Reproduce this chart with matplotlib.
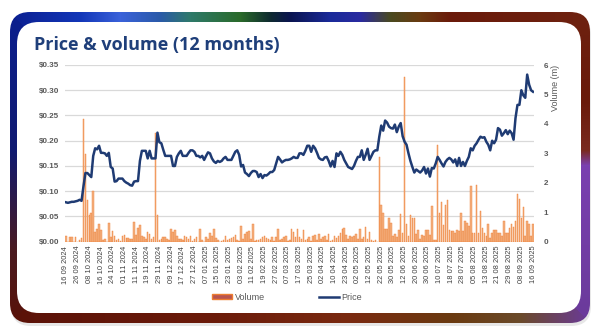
import numpy as np
import matplotlib
matplotlib.use('Agg')
import matplotlib.pyplot as plt
from matplotlib.patches import FancyBboxPatch, Patch
from matplotlib.lines import Line2D
from matplotlib.colors import to_rgb

# daily close price ($), one value per trading day, 16 09 2024 .. 16 09 2025
price = [
    0.078, 0.077, 0.078, 0.079, 0.079, 0.080, 0.081, 0.083, 0.081, 0.110,
    0.136, 0.136, 0.132, 0.128, 0.170, 0.185, 0.183, 0.190, 0.176, 0.176,
    0.175, 0.170, 0.176, 0.148, 0.145, 0.119, 0.120, 0.125, 0.125, 0.125,
    0.120, 0.117, 0.115, 0.112, 0.111, 0.119, 0.120, 0.120, 0.160, 0.180,
    0.180, 0.180, 0.165, 0.180, 0.165, 0.165, 0.165, 0.216, 0.197, 0.195,
    0.182, 0.170, 0.170, 0.170, 0.170, 0.150, 0.150, 0.168, 0.175, 0.180,
    0.170, 0.170, 0.170, 0.176, 0.181, 0.181, 0.178, 0.170, 0.170, 0.167,
    0.170, 0.162, 0.170, 0.177, 0.175, 0.165, 0.159, 0.156, 0.160, 0.158,
    0.160, 0.165, 0.168, 0.162, 0.162, 0.162, 0.170, 0.178, 0.181, 0.172,
    0.149, 0.152, 0.137, 0.134, 0.130, 0.136, 0.140, 0.140, 0.138, 0.128,
    0.134, 0.126, 0.132, 0.131, 0.134, 0.138, 0.138, 0.142, 0.155, 0.168,
    0.163, 0.157, 0.160, 0.162, 0.162, 0.163, 0.165, 0.168, 0.166, 0.166,
    0.175, 0.175, 0.172, 0.180, 0.190, 0.190, 0.178, 0.190, 0.185, 0.176,
    0.166, 0.163, 0.162, 0.167, 0.168, 0.160, 0.149, 0.160, 0.148, 0.175,
    0.170, 0.178, 0.172, 0.162, 0.155, 0.148, 0.146, 0.144, 0.150, 0.160,
    0.168, 0.168, 0.181, 0.162, 0.172, 0.184, 0.162, 0.170, 0.178, 0.181,
    0.181, 0.208, 0.230, 0.220, 0.240, 0.236, 0.228, 0.225, 0.224, 0.232,
    0.217, 0.228, 0.235, 0.209, 0.198, 0.192, 0.175, 0.160, 0.148, 0.137,
    0.143, 0.140, 0.137, 0.141, 0.148, 0.135, 0.145, 0.129, 0.146, 0.145,
    0.155, 0.168, 0.162, 0.155, 0.149, 0.158, 0.163, 0.166, 0.163, 0.157,
    0.163, 0.150, 0.166, 0.150, 0.158, 0.150, 0.160, 0.168, 0.185, 0.181,
    0.190, 0.195, 0.202, 0.208, 0.206, 0.207, 0.198, 0.192, 0.181, 0.200,
    0.195, 0.202, 0.225, 0.222, 0.210, 0.215, 0.221, 0.213, 0.220, 0.215,
    0.202, 0.245, 0.271, 0.271, 0.300, 0.290, 0.285, 0.331, 0.311, 0.300,
    0.297,
]

# daily volume (millions of shares)
volume = [
    0.20, 0.00, 0.15, 0.16, 0.00, 0.17, 0.00, 0.06, 0.12, 4.16,
    2.97, 1.42, 0.90, 0.96, 1.73, 0.34, 0.42, 0.60, 0.40, 0.05,
    0.08, 0.00, 0.62, 0.15, 0.38, 0.20, 0.05, 0.10, 0.02, 0.18,
    0.22, 0.12, 0.12, 0.10, 0.08, 0.68, 0.22, 0.45, 0.57, 0.20,
    0.17, 0.08, 0.32, 0.25, 0.10, 0.15, 3.70, 0.90, 0.07, 0.10,
    0.15, 0.15, 0.10, 0.05, 0.42, 0.32, 0.40, 0.20, 0.10, 0.10,
    0.05, 0.20, 0.15, 0.10, 0.20, 0.02, 0.08, 0.15, 0.00, 0.42,
    0.05, 0.00, 0.15, 0.08, 0.28, 0.20, 0.42, 0.12, 0.05, 0.00,
    0.02, 0.05, 0.20, 0.05, 0.10, 0.12, 0.17, 0.24, 0.05, 0.02,
    0.53, 0.10, 0.25, 0.34, 0.38, 0.10, 0.60, 0.03, 0.05, 0.05,
    0.10, 0.15, 0.20, 0.12, 0.10, 0.05, 0.15, 0.02, 0.17, 0.42,
    0.05, 0.10, 0.15, 0.20, 0.02, 0.05, 0.42, 0.34, 0.15, 0.44,
    0.15, 0.10, 0.40, 0.05, 0.08, 0.15, 0.02, 0.20, 0.22, 0.05,
    0.27, 0.10, 0.15, 0.20, 0.05, 0.27, 0.02, 0.05, 0.20, 0.12,
    0.20, 0.30, 0.42, 0.45, 0.22, 0.10, 0.20, 0.15, 0.18, 0.27,
    0.10, 0.44, 0.10, 0.15, 0.50, 0.10, 0.34, 0.05, 0.02, 0.05,
    0.00, 2.87, 1.25, 0.96, 0.42, 0.42, 0.80, 0.62, 0.20, 0.25,
    0.15, 0.40, 0.94, 0.30, 5.60, 0.60, 0.20, 0.90, 0.80, 0.80,
    0.25, 0.40, 0.10, 0.22, 0.20, 0.40, 0.40, 0.22, 1.21, 0.05,
    0.05, 3.28, 0.99, 1.36, 0.58, 1.25, 1.42, 0.40, 0.35, 0.38,
    0.30, 0.40, 0.35, 0.96, 0.35, 0.70, 0.65, 0.55, 1.89, 0.30,
    0.30, 1.92, 0.30, 1.05, 0.45, 0.30, 0.20, 0.60, 0.12, 0.30,
    0.40, 0.40, 0.30, 0.30, 0.20, 0.70, 0.30, 0.30, 0.45, 0.60,
    0.50, 0.70, 1.62, 1.45, 0.80, 1.17, 0.20, 0.70, 0.60, 0.20,
    0.60,
]

date_labels = [
    '16 09 2024', '26 09 2024', '08 10 2024', '16 10 2024', '24 10 2024',
    '01 11 2024', '11 11 2024', '19 11 2024', '29 11 2024', '09 12 2024',
    '17 12 2024', '27 12 2024', '07 01 2025', '15 01 2025', '23 01 2025',
    '03 02 2025', '11 02 2025', '19 02 2025', '27 02 2025', '07 03 2025',
    '17 03 2025', '25 03 2025', '02 04 2025', '10 04 2025', '23 04 2025',
    '02 05 2025', '12 05 2025', '22 05 2025', '30 05 2025', '12 06 2025',
    '20 06 2025', '30 06 2025', '10 07 2025', '18 07 2025', '28 07 2025',
    '05 08 2025', '13 08 2025', '21 08 2025', '29 08 2025', '08 09 2025',
    '16 09 2025',
]
label_step = 6

price_ticks = [0.0, 0.05, 0.10, 0.15, 0.20, 0.25, 0.30, 0.35]
volume_ticks = [0, 1, 2, 3, 4, 5, 6]

W, H = 600, 335
navy = '#1F3B73'
grey = '#595959'

fig = plt.figure(figsize=(W / 100, H / 100), dpi=100)
fig.patch.set_facecolor('white')

# ---- decorative gradient frame + white card ----
bg = fig.add_axes([0, 0, 1, 1])
bg.set_xlim(0, W)
bg.set_ylim(H, 0)
bg.axis('off')

def ramp(stops, n):
    pos = [s[0] for s in stops]
    cols = np.array([to_rgb(s[1]) for s in stops])
    t = np.arange(n)
    return np.stack([np.interp(t, pos, cols[:, k]) for k in range(3)], axis=1)

top = ramp([(10, '#0B1F8F'), (80, '#1236B8'), (120, '#3A62DA'), (160, '#2A5AA8'),
            (190, '#2F7A6A'), (240, '#2A6A2A'), (270, '#0F2A30'), (290, '#0A1450'),
            (330, '#1A2A9A'), (360, '#2A2AA0'), (390, '#4A4A20'), (420, '#6A3A10'),
            (450, '#6A1A0A'), (590, '#6E2210')], W)
bottom = ramp([(10, '#5A1208'), (200, '#6A1A0A'), (350, '#7A2A10'), (450, '#6A3A10'),
               (520, '#6A4A2A'), (590, '#6A3A9A')], W)
left = ramp([(12, '#0B1F8F'), (150, '#101A70'), (250, '#4A1A20'), (323, '#5A1208')], H)
right = ramp([(12, '#6E2210'), (100, '#6A1A0A'), (150, '#7A2A20'), (165, '#7A40B0'),
              (323, '#6A3A9A')], H)

yy, xx = np.mgrid[0:H, 0:W]
d = np.stack([yy - 12, 323 - yy, xx - 10, 590 - xx])
which = np.argmin(d, axis=0)
img = np.where((which == 0)[..., None], top[xx],
      np.where((which == 1)[..., None], bottom[xx],
      np.where((which == 2)[..., None], left[yy], right[yy])))

shadow = FancyBboxPatch((11, 15), 580, 311, boxstyle='round,pad=0,rounding_size=20',
                        fc='#DDDDDD', ec='none', alpha=0.7, zorder=0)
bg.add_patch(shadow)
frame = FancyBboxPatch((10, 12), 580, 311, boxstyle='round,pad=0,rounding_size=20',
                       fc='none', ec='none')
bg.add_patch(frame)
im = bg.imshow(img, extent=[0, W, H, 0], zorder=1, interpolation='bilinear')
im.set_clip_path(frame)
card = FancyBboxPatch((17, 22), 564, 291, boxstyle='round,pad=0,rounding_size=22',
                      fc='white', ec='none', zorder=2)
bg.add_patch(card)

bg.text(34, 45, 'Price & volume (12 months)', fontsize=13, fontweight='bold',
        color='#1F3F7A', family='Open Sans', va='center', ha='left', zorder=3)

# ---- chart ----
x = np.arange(len(price))
rect = [65 / W, 1 - 241.7 / H, (534 - 65) / W, (241.7 - 65) / H]

ax = fig.add_axes(rect)
ax.patch.set_alpha(0)
ax.set_ylim(0, 0.35)
ax.set_xlim(-0.5, len(price) - 0.5)
ax.set_yticks(price_ticks)
ax.set_yticklabels(['$%.2f' % v for v in price_ticks])
ax.grid(axis='y', color='#D9D9D9', linewidth=0.9)
ax.set_xticks(x[::label_step])
ax.set_xticklabels(date_labels, rotation=90, fontsize=5.4, color='#404040',
                   family='Liberation Sans')
ax.tick_params(axis='both', length=0)
ax.tick_params(axis='y', labelsize=5.8, labelcolor=grey, pad=4)
ax.tick_params(axis='x', pad=3)
for lab in ax.get_yticklabels():
    lab.set_fontweight('bold')
    lab.set_family('Liberation Sans')
for s in ax.spines.values():
    s.set_visible(False)

axv = ax.twinx()
axv.bar(x, volume, width=0.8, color='#F4B183', edgecolor='#ED7D31', linewidth=0.3)
axv.set_ylim(0, 6)
axv.set_yticks(volume_ticks)
axv.tick_params(axis='y', length=0, labelsize=5.8, labelcolor=grey, pad=7)
for lab in axv.get_yticklabels():
    lab.set_fontweight('bold')
    lab.set_family('Liberation Sans')
for s in axv.spines.values():
    s.set_visible(False)

axp = ax.twinx()
axp.plot(x, price, color=navy, linewidth=1.8, solid_joinstyle='round')
axp.set_ylim(0, 0.35)
axp.set_yticks([])
for s in axp.spines.values():
    s.set_visible(False)

fig.text(556 / W, 1 - 88 / H, 'Volume (m)', rotation=90, fontsize=6.5, color=grey,
         family='Liberation Sans', ha='center', va='center')

handles = [Patch(facecolor='#B85450', edgecolor='#ED7D31', linewidth=1),
           Line2D([], [], color=navy, linewidth=1.8)]
fig.legend(handles, ['Volume', 'Price'], loc='center', ncol=2,
           bbox_to_anchor=(287 / W, 1 - 297 / H), frameon=False,
           prop={'family': 'Liberation Sans', 'size': 6.5}, labelcolor=grey,
           handlelength=2.2, handleheight=0.5, handletextpad=0.3, columnspacing=6)

fig.savefig('out.png', dpi=100)
